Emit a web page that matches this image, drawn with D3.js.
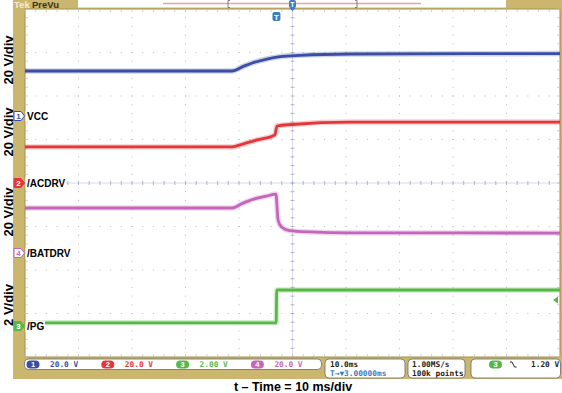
<!DOCTYPE html>
<html>
<head>
<meta charset="utf-8">
<title>Scope capture</title>
<script src="https://d3js.org/d3.v7.min.js"></script>
<style>body{margin:0;background:#fff;}</style>
</head>
<body>
<script>
var width = 562, height = 393;
var tan = "#cbb66f", edge = "#a88f46";

// channels in display order 1..4
var chNums = ["1", "2", "3", "4"];
var chNames = ["VCC", "/ACDRV", "/PG", "/BATDRV"];
var chColors = ["#3b4ea3", "#e2383b", "#56b947", "#c466bb"];
var voltsPerDiv = [20, 20, 2, 20];
var groundDiv = [1.54, 0, -3.29, -1.61];
var statusScales = ["20.0 V", "20.0 V", "2.00 V", "20.0 V"];
var sideLabels = ["20 V/div", "20 V/div", "20 V/div", "2 V/div"];

// waveforms: time in ms from trigger, level in volts
var vccTime  = [-47, -8.3, -6.3, -4.4, -1.8, 0.7, 4.4, 13.8, 53];
var vccVolts = [20.7, 20.7, 22.7, 24.5, 26.2, 27.3, 27.9, 28.5, 28.7];
var acdrvTime  = [-47, -8.3, -6.3, -3.6, -0.3, 0.1, 2.9, 13.8, 53];
var acdrvVolts = [16.6, 16.6, 17.9, 19.8, 22.1, 26.2, 26.9, 28.0, 28.0];
var pgTime  = [-47, -0.05, 0.05, 53];
var pgVolts = [0.15, 0.15, 1.66, 1.66];
var batdrvTime  = [-47, -8.3, -6.3, -4.4, -1.8, -0.1, 0.3, 0.9, 2.5, 6.3, 13.8, 53];
var batdrvVolts = [20.7, 20.7, 22.9, 24.7, 26.2, 27.1, 15.2, 12.1, 10.3, 9.7, 9.3, 9.2];
var traces = [[vccTime, vccVolts], [acdrvTime, acdrvVolts], [pgTime, pgVolts], [batdrvTime, batdrvVolts]];

var timeDomain = [-47, 53];   // 10 ms/div, trigger 3 ms left of centre
var trigLevel = 1.20;

var svg = d3.select("body").append("svg")
  .attr("width", width).attr("height", height)
  .style("font-family", "Arial, 'Liberation Sans', sans-serif");

var x = d3.scaleLinear().domain(timeDomain).range([25, 560]);
var y = d3.scaleLinear().domain([-4, 4]).range([357, 9]);
function yCh(i, v) { return y(groundDiv[i] + v / voltsPerDiv[i]); }

// frame
svg.append("rect").attr("x", 13).attr("y", 0).attr("width", 549).attr("height", 379).attr("fill", tan);
svg.append("rect").attr("x", 25).attr("y", 9).attr("width", 535).attr("height", 348).attr("fill", "#fff")
  .attr("stroke", edge).attr("stroke-width", 1);

// record view bar
svg.append("rect").attr("x", 78).attr("y", 0).attr("width", 428).attr("height", 7.5).attr("fill", "#fff");
svg.append("line").attr("x1", 163).attr("x2", 421).attr("y1", 3.5).attr("y2", 3.5)
  .attr("stroke", "#eba2a2").attr("stroke-width", 1.6);
svg.append("path").attr("d", "M230,0.5 h-2 v7 h2 M355,0.5 h2 v7 h-2").attr("fill", "none").attr("stroke", "#666").attr("stroke-width", 0.8);
svg.append("text").attr("x", 14).attr("y", 7.5).attr("font-size", 9.5).attr("font-weight", "bold").attr("fill", "#f4ecd0").text("Tek");
svg.append("text").attr("x", 32).attr("y", 7.5).attr("font-size", 9.5).attr("font-weight", "bold").attr("fill", "#3a3212").text("PreVu");

// graticule
var g = svg.append("g");
var majT = d3.range(timeDomain[0] + 10, timeDomain[1], 10);
var minT = d3.range(timeDomain[0], timeDomain[1] + 0.01, 2);
var majY = d3.range(-3, 4, 1);
var minY = d3.range(-4, 4.01, 0.2);
majT.forEach(function(t) {
  if (Math.abs(t - 3) < 0.01) return;
  minY.forEach(function(d) {
    g.append("rect").attr("x", x(t) - 0.5).attr("y", y(d) - 0.5).attr("width", 1).attr("height", 1).attr("fill", "#bdbdbd");
  });
});
majY.forEach(function(d) {
  if (d === 0) return;
  minT.forEach(function(t) {
    g.append("rect").attr("x", x(t) - 0.5).attr("y", y(d) - 0.5).attr("width", 1).attr("height", 1).attr("fill", "#bdbdbd");
  });
});
// centre lines with ticks
g.append("line").attr("x1", x(3)).attr("x2", x(3)).attr("y1", 9).attr("y2", 357).attr("stroke", "#cfd1de").attr("stroke-width", 0.8);
g.append("line").attr("x1", 25).attr("x2", 560).attr("y1", y(0)).attr("y2", y(0)).attr("stroke", "#cfd1de").attr("stroke-width", 0.8);
minY.forEach(function(d) {
  g.append("line").attr("x1", x(3) - 2).attr("x2", x(3) + 2).attr("y1", y(d)).attr("y2", y(d)).attr("stroke", "#9ea3c2").attr("stroke-width", 0.8);
  g.append("line").attr("x1", 25).attr("x2", 28).attr("y1", y(d)).attr("y2", y(d)).attr("stroke", "#bbb").attr("stroke-width", 0.7);
  g.append("line").attr("x1", 557).attr("x2", 560).attr("y1", y(d)).attr("y2", y(d)).attr("stroke", "#bbb").attr("stroke-width", 0.7);
});
minT.forEach(function(t) {
  g.append("line").attr("x1", x(t)).attr("x2", x(t)).attr("y1", y(0) - 2).attr("y2", y(0) + 2).attr("stroke", "#9ea3c2").attr("stroke-width", 0.8);
  g.append("line").attr("x1", x(t)).attr("x2", x(t)).attr("y1", 9).attr("y2", 12).attr("stroke", "#bbb").attr("stroke-width", 0.7);
  g.append("line").attr("x1", x(t)).attr("x2", x(t)).attr("y1", 354).attr("y2", 357).attr("stroke", "#bbb").attr("stroke-width", 0.7);
});

// traces
traces.forEach(function(tr, i) {
  var pts = tr[0].map(function(t, k) { return [x(t), yCh(i, tr[1][k])]; });
  var line = d3.line().curve(d3.curveMonotoneX);
  svg.append("path").attr("d", line(pts)).attr("fill", "none").attr("stroke", chColors[i])
    .attr("stroke-width", 5.5).attr("stroke-opacity", 0.25).attr("stroke-linejoin", "round");
  svg.append("path").attr("d", line(pts)).attr("fill", "none").attr("stroke", chColors[i])
    .attr("stroke-width", 2.8).attr("stroke-linejoin", "round");
});

// channel ground markers and names
chNums.forEach(function(n, i) {
  var gy = yCh(i, 0);
  var filled = (i === 1 || i === 2);
  var bg = svg.append("rect").attr("fill", "#fff");
  var lbl = svg.append("text").attr("x", 27).attr("y", gy + 3.6).attr("font-size", 10).attr("font-weight", "bold").text(chNames[i]);
  var bb = lbl.node().getBBox();
  bg.attr("x", 25.5).attr("y", bb.y).attr("width", bb.width + 2).attr("height", bb.height);
  svg.append("path").attr("d", "M14," + (gy - 4.5) + " h7 l3.5,4.5 l-3.5,4.5 h-7 z")
    .attr("fill", filled ? chColors[i] : "#fff").attr("stroke", chColors[i]).attr("stroke-width", 1);
  svg.append("text").attr("x", 18.5).attr("y", gy + 3).attr("font-size", 8).attr("font-weight", "bold")
    .attr("text-anchor", "middle").attr("fill", filled ? "#fff" : chColors[i]).text(n);
});

// trigger markers
var tx = x(0);
svg.append("rect").attr("x", tx - 4).attr("y", 12).attr("width", 8).attr("height", 9).attr("rx", 2).attr("fill", "#3d7cc2");
svg.append("text").attr("x", tx).attr("y", 19.5).attr("font-size", 8).attr("font-weight", "bold").attr("text-anchor", "middle").attr("fill", "#fff").text("T");
var cx = x(3);
svg.append("rect").attr("x", cx - 3.5).attr("y", 0).attr("width", 7).attr("height", 8).attr("rx", 2).attr("fill", "#3d7cc2");
svg.append("path").attr("d", "M" + (cx - 3) + ",8 h6 l-3,3 z").attr("fill", "#3d7cc2");
svg.append("text").attr("x", cx).attr("y", 6.5).attr("font-size", 7).attr("font-weight", "bold").attr("text-anchor", "middle").attr("fill", "#fff").text("T");
var ty = yCh(2, trigLevel);
svg.append("path").attr("d", "M553," + ty + " l5,-3.5 v7 z").attr("fill", chColors[2]);

// side scale labels
var sideY = [60, 132, 212, 305];
sideLabels.forEach(function(s, i) {
  svg.append("text").attr("transform", "translate(12.5," + sideY[i] + ") rotate(-90)")
    .attr("text-anchor", "middle").attr("font-size", 13).attr("font-weight", "bold").text(s);
});

// status bar
var mono = "'DejaVu Sans Mono', monospace";
function box(x0, w, h) {
  svg.append("rect").attr("x", x0).attr("y", 359).attr("width", w).attr("height", h).attr("rx", 4)
    .attr("fill", "#fff").attr("stroke", "#6b6b6b").attr("stroke-width", 0.8);
}
box(24.5, 297, 10.5);
box(325, 80, 19);
box(408, 57, 19);
box(471, 89.5, 19);
function pill(px, i) {
  svg.append("rect").attr("x", px).attr("y", 360.5).attr("width", 13).attr("height", 8).attr("rx", 4).attr("fill", chColors[i]);
  svg.append("text").attr("x", px + 6.5).attr("y", 367.3).attr("font-size", 7.5).attr("font-weight", "bold")
    .attr("text-anchor", "middle").attr("fill", "#fff").text(chNums[i]);
}
statusScales.forEach(function(s, i) {
  var px = 26.5 + i * 74.8;
  pill(px, i);
  svg.append("text").attr("x", px + 23.5).attr("y", 367.3).attr("font-family", mono).attr("font-size", 7.8)
    .attr("font-weight", "bold").attr("fill", chColors[i]).text(s);
});
function st(x0, y0, s, c) {
  svg.append("text").attr("x", x0).attr("y", y0).attr("font-family", mono).attr("font-size", 7.8)
    .attr("font-weight", "bold").attr("fill", c || "#222").text(s);
}
st(330, 367, "10.0ms");
st(330, 376, "T\u2192\u25BC3.00000ms", "#3d7cc2");
st(412, 367, "1.00MS/s");
st(412, 376, "100k points");
pill(489, 2);
svg.append("path").attr("d", "M510,362 h2 l2.5,5 h2").attr("fill", "none").attr("stroke", "#222").attr("stroke-width", 1);
st(531, 367, "1.20 V");

// time axis title
svg.append("text").attr("x", 293).attr("y", 391).attr("text-anchor", "middle").attr("font-size", 12.5)
  .attr("font-weight", "bold").text("t \u2013 Time = 10 ms/div");
</script>
</body>
</html>
